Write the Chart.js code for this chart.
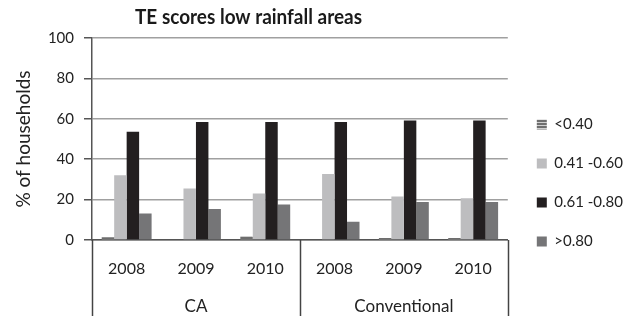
<!DOCTYPE html>
<html><head><meta charset="utf-8">
<script src="https://cdn.jsdelivr.net/npm/chart.js@4.4.1/dist/chart.umd.min.js"></script>
<style>html,body{margin:0;padding:0;background:#fff}#wrap{width:638px;height:316px}</style>
</head><body><div id="wrap"><canvas id="c" width="638" height="316"></canvas></div>
<script>
const years = ['2008','2009','2010','2008','2009','2010'];
const groups = ['CA','Conventional'];
const seriesNames = ['<0.40','0.41 -0.60','0.61 -0.80','>0.80'];
const lt040 = [1.3, 0, 2, 0, 1, 1];
const r041_060 = [32, 25.5, 23, 32.7, 21.5, 20.7];
const r061_080 = [53.6, 58.4, 58.4, 58.4, 59.2, 59.2];
const gt080 = [13.1, 15.3, 17.6, 9, 18.8, 18.8];
const yTicks = [0, 20, 40, 60, 80, 100];

const FONT = "Lato, 'Open Sans', sans-serif";

function stripePattern(){
  const p = document.createElement('canvas');
  p.width = 4; p.height = 3;
  const g = p.getContext('2d');
  g.fillStyle = '#d0d0d0'; g.fillRect(0,0,4,3);
  g.fillStyle = '#6e6e6e'; g.fillRect(0,0,4,2);
  return document.getElementById('c').getContext('2d').createPattern(p,'repeat');
}
const pat = stripePattern();

const groupPlugin = {
  id: 'groupAxis',
  afterLayout(chart){
    const tb = chart.titleBlock;
    if (tb) { tb.left = 135; tb.right = 362; }
    const lg = chart.legend;
    if (lg) { lg.top += 50; lg.left += 5; lg.right += 5; }
  },
  afterDraw(chart){
    const ctx = chart.ctx, x = chart.scales.x, a = chart.chartArea;
    const H = chart.height;
    const b0 = a.left;
    const b1 = (x.getPixelForValue(2) + x.getPixelForValue(3)) / 2;
    const b2 = a.right;
    ctx.save();
    ctx.strokeStyle = '#444';
    ctx.lineWidth = 1.5;
    [b0, b1, b2].forEach(px => {
      ctx.beginPath();
      ctx.moveTo(Math.round(px)+0.5, a.bottom);
      ctx.lineTo(Math.round(px)+0.5, H);
      ctx.stroke();
    });
    ctx.fillStyle = '#222';
    ctx.font = '17px ' + FONT;
    ctx.textAlign = 'center';
    ctx.textBaseline = 'middle';
    ctx.fillText(groups[0], (b0+b1)/2, 307);
    ctx.fillText(groups[1], (b1+b2)/2, 307);
    ctx.restore();
  }
};

new Chart(document.getElementById('c'), {
  type: 'bar',
  data: {
    labels: years,
    datasets: [
      {label: seriesNames[0], data: lt040, backgroundColor: pat},
      {label: seriesNames[1], data: r041_060, backgroundColor: '#bdbdbf'},
      {label: seriesNames[2], data: r061_080, backgroundColor: '#231f20'},
      {label: seriesNames[3], data: gt080, backgroundColor: '#757577'}
    ]
  },
  options: {
    responsive: false,
    animation: false,
    events: [],
    layout: {padding: {left: 12, right: 10, top: 0, bottom: 0}},
    datasets: {bar: {barPercentage: 1.0, categoryPercentage: 0.72}},
    plugins: {
      title: {
        display: true,
        text: 'TE scores low rainfall areas',
        color: '#1a1a1a',
        font: {family: FONT, size: 20, weight: 'bold'},
        padding: {top: 6, bottom: 8},
        align: 'center',
        fullSize: false
      },
      legend: {
        position: 'right',
        align: 'center',
        labels: {
          color: '#222',
          font: {family: FONT, size: 15},
          boxWidth: 10, boxHeight: 10,
          padding: 24
        }
      },
      tooltip: {enabled: false}
    },
    scales: {
      x: {
        grid: {display: false, drawTicks: false},
        border: {display: true, color: '#555', width: 1.5},
        ticks: {color: '#222', font: {family: FONT, size: 16}, padding: 19, maxRotation: 0, autoSkip: false},
        afterFit(s){ s.height = 76; }
      },
      y: {
        min: 0, max: 100,
        afterBuildTicks(s){ s.ticks = yTicks.map(v => ({value: v})); },
        grid: {color: '#a0a0a0', lineWidth: 1.5, tickLength: 8, tickColor: '#555'},
        border: {display: true, color: '#555', width: 1.5},
        ticks: {color: '#222', font: {family: FONT, size: 15}, padding: 10},
        title: {display: true, text: '% of households', color: '#222', font: {family: FONT, size: 19}, padding: {top: 0, bottom: 4}},
        afterFit(s){ s.width = 80; }
      }
    }
  },
  plugins: [groupPlugin]
});
</script></body></html>
